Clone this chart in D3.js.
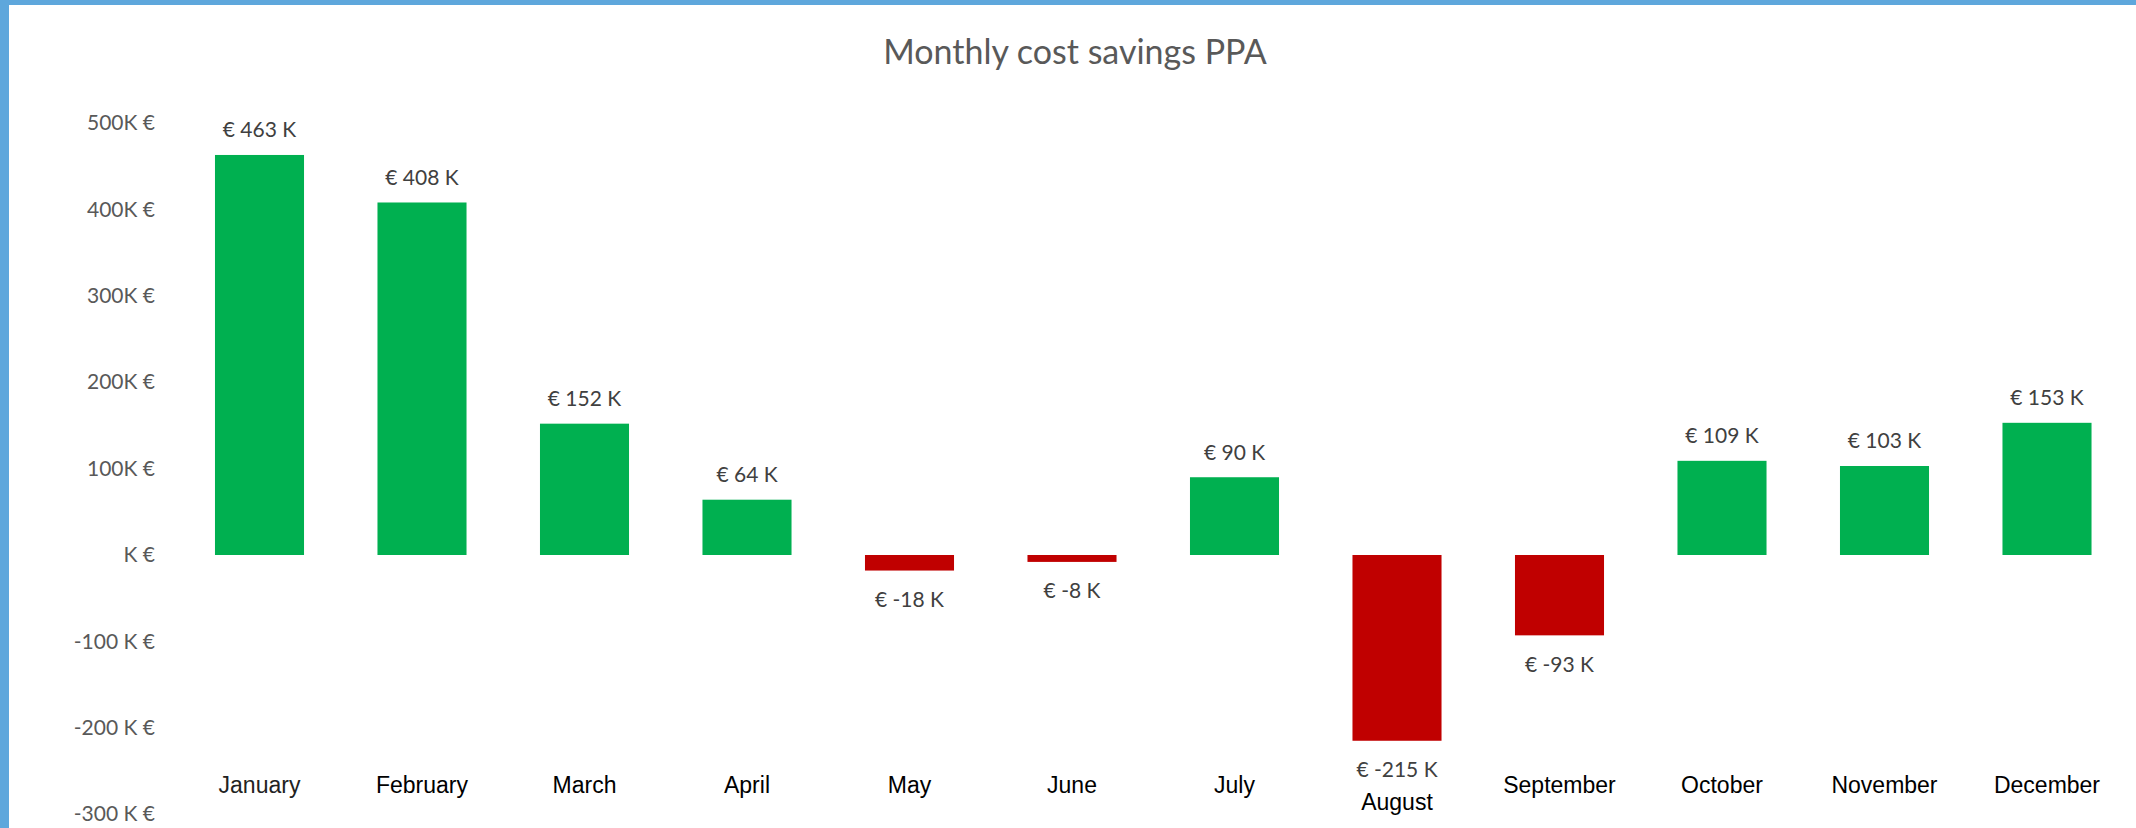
<!DOCTYPE html>
<html>
<head>
<meta charset="utf-8">
<script src="https://cdn.jsdelivr.net/npm/d3@7"></script>
<style>
  body { margin: 0; background: #fff; }
  svg { display: block; }
</style>
</head>
<body>
<div id="chart"></div>
<script>
var months = ["January", "February", "March", "April", "May", "June", "July",
              "August", "September", "October", "November", "December"];
var savings = [463, 408, 152, 64, -18, -8, 90, -215, -93, 109, 103, 153];   // K €
var yTicks = [500, 400, 300, 200, 100, 0, -100, -200, -300];
var yTickLabels = ["500K €", "400K €", "300K €", "200K €", "100K €", "K €",
                   "-100 K €", "-200 K €", "-300 K €"];

function init()
{
  var width = 2136;
  var height = 828;

  var svg = d3.select("#chart")
    .append("svg")
    .attr("width", width)
    .attr("height", height);

  // chart frame (only top and left edge visible)
  svg.append("rect")
    .attr("x", 0).attr("y", 0)
    .attr("width", width).attr("height", 5)
    .style("fill", "#5ea7dc");
  svg.append("rect")
    .attr("x", 0).attr("y", 0)
    .attr("width", 9).attr("height", height)
    .style("fill", "#5ea7dc");

  var xScale = d3.scaleBand()
    .domain(months)
    .range([178.25, 2128.25])
    .paddingInner(0.452)
    .paddingOuter(0.226);

  var yScale = d3.scaleLinear()
    .domain([-300, 500])
    .range([814.2, 123]);

  var labelFont = "Lato, 'Open Sans', sans-serif";

  // title
  svg.append("text")
    .attr("x", 1075)
    .attr("y", 64)
    .style("text-anchor", "middle")
    .style("font-family", labelFont)
    .style("font-size", "34px")
    .style("fill", "#595959")
    .text("Monthly cost savings PPA");

  // y axis, labels only
  var yAxis = d3.axisLeft(yScale)
    .tickValues(yTicks)
    .tickSize(0)
    .tickPadding(0)
    .tickFormat(function(d, i) { return yTickLabels[i]; });

  var gy = svg.append("g")
    .attr("transform", "translate(155, 0)")
    .call(yAxis);
  gy.select(".domain").remove();
  gy.selectAll("text")
    .style("font-family", labelFont)
    .style("font-size", "21px")
    .style("fill", "#595959");

  // bars
  svg.selectAll(".bar")
    .data(savings)
    .enter()
    .append("rect")
      .attr("class", "bar")
      .attr("x", function(d, i) { return xScale(months[i]); })
      .attr("y", function(d) { return yScale(Math.max(0, d)); })
      .attr("width", xScale.bandwidth())
      .attr("height", function(d) { return Math.abs(yScale(d) - yScale(0)); })
      .style("fill", function(d) { return d >= 0 ? "#00b050" : "#c00000"; });

  // value labels
  svg.selectAll(".value")
    .data(savings)
    .enter()
    .append("text")
      .attr("class", "value")
      .attr("x", function(d, i) { return xScale(months[i]) + xScale.bandwidth() / 2; })
      .attr("y", function(d) { return d >= 0 ? yScale(d) - 25 : yScale(d) + 29; })
      .attr("dy", ".35em")
      .style("text-anchor", "middle")
      .style("font-family", labelFont)
      .style("font-size", "21px")
      .style("fill", "#404040")
      .text(function(d) { return "€ " + d + " K"; });

  // month labels along the bottom; August moves down under its value label
  svg.selectAll(".month")
    .data(months)
    .enter()
    .append("text")
      .attr("class", "month")
      .attr("x", function(d) { return xScale(d) + xScale.bandwidth() / 2; })
      .attr("y", function(d) { return d === "August" ? 802 : 785; })
      .attr("dy", ".35em")
      .style("text-anchor", "middle")
      .style("font-family", "'Liberation Sans', Arial, sans-serif")
      .style("font-size", "23px")
      .style("fill", function(d) { return d === "January" ? "#222" : "#000"; })
      .text(function(d) { return d; });
}

window.onload = init;
</script>
</body>
</html>
